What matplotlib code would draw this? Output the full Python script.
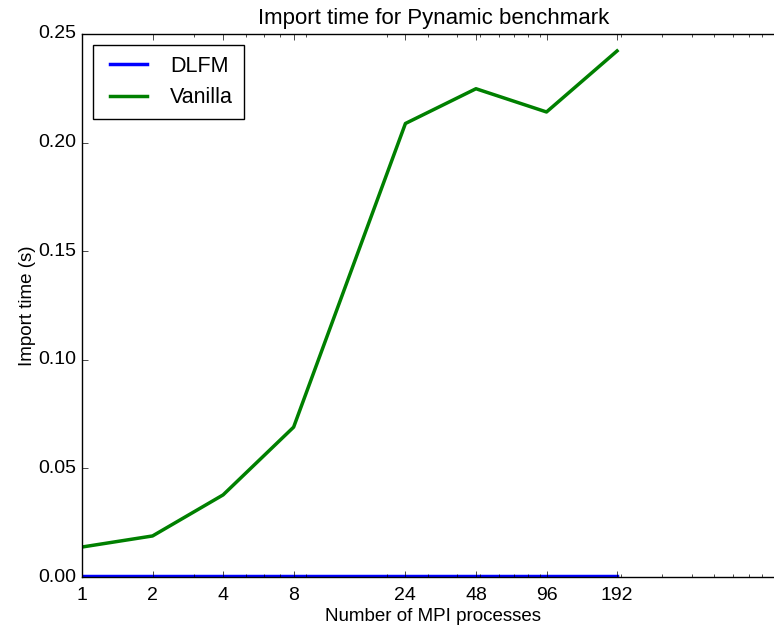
import matplotlib
matplotlib.use("Agg")
import matplotlib.pyplot as plt
from matplotlib.ticker import FixedLocator, FixedFormatter

procs = [1, 2, 4, 8, 24, 48, 96, 192]
tick_labels = ["1", "2", "4", "8", "24", "48", "96", "192"]
dlfm = [0.0003, 0.0003, 0.0003, 0.0003, 0.0003, 0.0003, 0.0003, 0.0003]
vanilla = [0.0138, 0.0189, 0.0378, 0.069, 0.2088, 0.2248, 0.2141, 0.2422]

plt.style.use("classic")
plt.rcParams["font.family"] = ["Liberation Sans", "DejaVu Sans"]

fig = plt.figure(figsize=(7.74, 6.28), dpi=100, facecolor="white")
ax = fig.add_axes([82/774, 51/628, 703/774, (577-34)/628])
ax.plot(procs, dlfm, color="b", lw=2.5, label="DLFM")
ax.plot(procs, vanilla, color="g", lw=2.5, label="Vanilla")
ax.set_xscale("log")
ax.set_xlim(1, 1000)
ax.set_ylim(0, 0.25)
ax.xaxis.set_major_locator(FixedLocator(procs))
ax.xaxis.set_major_formatter(FixedFormatter(tick_labels))
ax.set_xlabel("Number of MPI processes", fontsize=13.5, labelpad=3)
ax.set_ylabel("Import time (s)", fontsize=13.5, labelpad=2)
ax.set_title("Import time for Pynamic benchmark", fontsize=16, y=1.005)
ax.tick_params(labelsize=14)
ax.tick_params(axis="x", pad=7)
ax.legend(loc="upper left", fontsize=15.5, handlelength=2.3, borderpad=0.5)
fig.savefig("out.png", dpi=100, facecolor="white")
